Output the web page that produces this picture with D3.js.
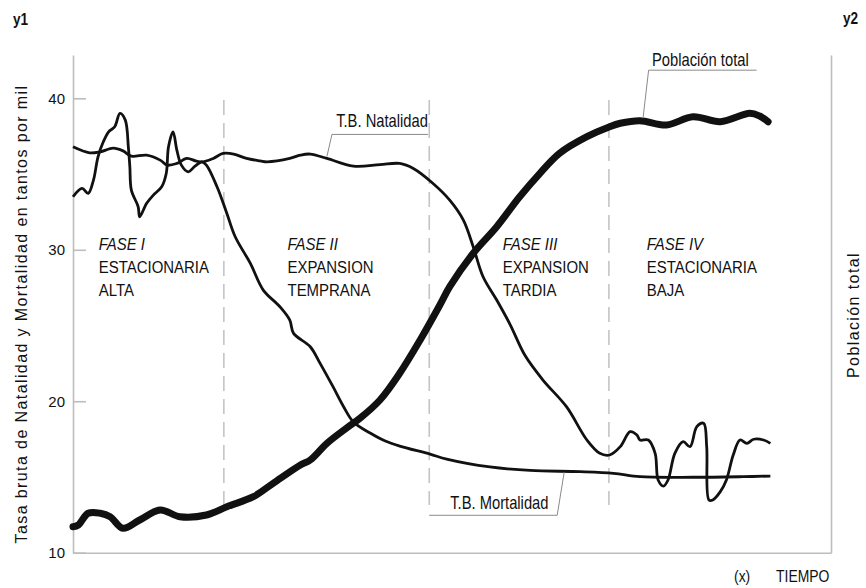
<!DOCTYPE html>
<html>
<head>
<meta charset="utf-8">
<script src="https://cdn.jsdelivr.net/npm/d3@7"></script>
<style>
    body { margin: 0; background: #fff; }
    text { font-family: "Liberation Sans", Arial, sans-serif; fill: #111; }
</style>
</head>
<body>
<div id="chart"></div>
<script>
// [tiempo (0-100), tasa por mil]
var natalidad = [[0, 36.8], [2.2, 36.4], [3.6, 36.47], [5.3, 36.71], [6.6, 36.53], [7.7, 36.18], [9.7, 36.25],
    [11.5, 35.92], [12.4, 35.59], [13.7, 35.7], [15.0, 36.03], [16.3, 35.85], [17.2, 35.81], [18.5, 36.03],
    [19.8, 36.36], [21.2, 36.32], [22.9, 36.03], [24.7, 35.87], [25.6, 35.81], [28.6, 36.03], [30.0, 36.25],
    [31.3, 36.32], [33.5, 36.03], [37.0, 35.52], [40.5, 35.62], [43.1, 35.7], [44.9, 35.37], [47.5, 34.38],
    [49.7, 33.28], [51.5, 31.96], [52.8, 30.2], [54.1, 28.22], [55.9, 26.68], [57.7, 25.03], [59.6, 23.05],
    [62.0, 21.4], [65.1, 19.64], [67.8, 17.44], [69.5, 16.56], [70.8, 16.45], [72.2, 17.0], [73.5, 17.99],
    [74.4, 17.77], [74.8, 17.44], [75.9, 17.44], [76.8, 16.56], [77.2, 14.8], [77.9, 14.4], [78.5, 14.8],
    [79.4, 16.56], [80.5, 17.33], [81.4, 17.0], [82.3, 18.32], [83.2, 18.54], [83.6, 17.0], [83.9, 13.48],
    [84.4, 13.48], [85.4, 14.03], [86.2, 14.8], [87.1, 16.45], [88.0, 17.44], [88.9, 17.22], [89.8, 17.49],
    [91.1, 17.44], [92.0, 17.22]]

var mortalidad = [[0, 33.5], [1.2, 34.05], [2.0, 33.72], [2.7, 34.6], [3.3, 36.14], [4.0, 37.13], [4.7, 37.79],
    [5.5, 38.12], [6.2, 39.0], [6.9, 38.56], [7.3, 36.8], [7.5, 35.48], [7.7, 33.94], [8.6, 32.84], [8.8, 32.18],
    [9.7, 33.06], [10.6, 33.61], [11.7, 34.16], [12.3, 35.04], [12.6, 36.8], [13.2, 37.79], [13.7, 36.58],
    [14.3, 35.59], [15.2, 35.15], [16.1, 35.52], [17.0, 35.81], [17.6, 35.59], [19.0, 34.16], [20.3, 32.4],
    [21.4, 30.86], [23.4, 29.1], [25.1, 27.34], [27.3, 26.24], [28.6, 25.36], [29.1, 24.48], [31.3, 23.6],
    [32.6, 22.5], [34.3, 20.96], [35.7, 19.64], [37.0, 18.63], [39.2, 17.9], [41.2, 17.37], [43.1, 17.04],
    [47.1, 16.51], [49.3, 16.18], [55.0, 15.66], [60.3, 15.43], [66.9, 15.35], [71.3, 15.24], [74.8, 15.02],
    [81.8, 14.98], [88.4, 15.02], [92.0, 15.06]]

// [tiempo, poblacion total] sobre el eje y2 (0-100)
var poblacion = [[0, 5.22], [0.7, 5.57], [2.0, 7.92], [3.6, 7.92], [4.9, 7.23], [6.6, 4.9], [8.8, 6.57],
    [11.5, 8.58], [14.1, 7.23], [17.6, 7.57], [20.3, 9.24], [23.8, 11.25], [26.4, 13.94], [30.0, 17.62],
    [31.3, 18.63], [33.5, 21.98], [36.1, 25.06], [37.9, 27.06], [40.5, 30.68], [43.1, 36.05], [45.8, 42.74],
    [48.4, 49.77], [49.7, 53.45], [52.8, 60.16], [55.9, 65.5], [58.9, 71.47], [61.6, 76.23], [64.2, 80.25],
    [67.8, 83.58], [70.8, 85.59], [72.2, 86.28], [74.8, 86.8], [78.3, 85.94], [81.8, 87.6], [85.4, 86.6],
    [89.3, 88.29], [90.6, 87.74], [91.7, 86.6]]

var ticksY1 = [10, 20, 30, 40]
var limitesFase = [19.9, 47.0, 70.7]
var faseX = [3.4, 28.3, 56.7, 75.7]
var faseNombre = ["FASE I", "FASE II", "FASE III", "FASE IV"]
var faseTexto = [["ESTACIONARIA", "ALTA"], ["EXPANSION", "TEMPRANA"], ["EXPANSION", "TARDIA"], ["ESTACIONARIA", "BAJA"]]
var etiquetas = ["T.B. Natalidad", "T.B. Mortalidad", "Población total"]
var etiquetaT = [33.5, 64.8, 75.2]

var width = 866,
    height = 588;

var svg = d3.select("#chart")
    .append("svg")
    .attr("width", width)
    .attr("height", height)

var x = d3.scaleLinear().domain([0, 100]).range([73, 831])
var y = d3.scaleLinear().domain([10, 42.86]).range([552.7, 55])
var y2 = d3.scaleLinear().domain([0, 100]).range([552.7, 55])

// no hay fuente estrecha instalada: se comprime en horizontal
function textoEstrecho(px, py, size, sx) {
    return svg.append("g")
        .attr("transform", "translate(" + px + "," + py + ") scale(" + sx + ",1)")
        .append("text")
        .style("font-size", size + "px")
}

// ejes
var axisColor = "#bdbdbd"

var gLeft = svg.append("g")
    .attr("transform", "translate(" + x(0) + ",0)")
    .call(d3.axisLeft(y).tickValues(ticksY1).tickSize(-13).tickSizeOuter(0).tickPadding(8).tickFormat(d3.format("d")))
gLeft.select(".domain").attr("stroke", axisColor).attr("stroke-width", 1.6)
gLeft.selectAll(".tick line").attr("stroke", axisColor).attr("stroke-width", 1.6)
gLeft.selectAll(".tick text")
    .attr("fill", "#111")
    .style("font-size", "15px")
    .style("font-family", "'Liberation Sans', Arial, sans-serif")

var gBottom = svg.append("g")
    .attr("transform", "translate(0," + y(10) + ")")
    .call(d3.axisBottom(x).tickValues([]).tickSizeOuter(0))
gBottom.select(".domain").attr("stroke", axisColor).attr("stroke-width", 1.6)

var gRight = svg.append("g")
    .attr("transform", "translate(" + x(100) + ",0)")
    .call(d3.axisRight(y2).tickValues([]).tickSizeOuter(0))
gRight.select(".domain").attr("stroke", axisColor).attr("stroke-width", 1.6)

// lineas de fase
svg.selectAll(".limite")
    .data(limitesFase)
    .enter().append("line")
    .attr("class", "limite")
    .attr("x1", function (d) { return x(d) })
    .attr("x2", function (d) { return x(d) })
    .attr("y1", 100)
    .attr("y2", 505)
    .attr("stroke", "#c4c4c4")
    .attr("stroke-width", 1.6)
    .attr("stroke-dasharray", "15,8")

// textos de fase
faseNombre.forEach(function (nombre, i) {
    var t = textoEstrecho(x(faseX[i]), y(30), 17, 0.88)
    t.append("tspan")
        .style("font-style", "italic")
        .text(nombre)
    faseTexto[i].forEach(function (linea) {
        t.append("tspan")
            .attr("x", 0)
            .attr("dy", 23)
            .text(linea)
    })
})

// curvas
var line = d3.line()
    .x(function (d) { return x(d[0]) })
    .y(function (d) { return y(d[1]) })
    .curve(d3.curveCatmullRom.alpha(0.5))

var line2 = d3.line()
    .x(function (d) { return x(d[0]) })
    .y(function (d) { return y2(d[1]) })
    .curve(d3.curveCatmullRom.alpha(0.5))

svg.append("path")
    .datum(natalidad)
    .attr("d", line)
    .attr("fill", "none")
    .attr("stroke", "#111")
    .attr("stroke-width", 2.8)
    .attr("stroke-linejoin", "round")

svg.append("path")
    .datum(mortalidad)
    .attr("d", line)
    .attr("fill", "none")
    .attr("stroke", "#111")
    .attr("stroke-width", 2.8)
    .attr("stroke-linejoin", "round")

svg.append("path")
    .datum(poblacion)
    .attr("d", line2)
    .attr("fill", "none")
    .attr("stroke", "#111")
    .attr("stroke-width", 7)
    .attr("stroke-linejoin", "round")
    .attr("stroke-linecap", "round")

// etiquetas con linea guia
function valorEn(serie, t) {
    for (var i = 1; i < serie.length; i++) {
        if (serie[i][0] >= t) {
            var a = serie[i - 1], b = serie[i]
            return a[1] + (b[1] - a[1]) * (t - a[0]) / (b[0] - a[0])
        }
    }
    return serie[serie.length - 1][1]
}

// dx, dy: codo respecto al punto; largo: repisa (negativa = hacia la izquierda)
var guias = [
    { px: x(etiquetaT[0]), py: y(valorEn(natalidad, etiquetaT[0])) - 2, dx: 5, dy: -22, largo: 96, tx: 96, anchor: "end", ty: -7 },
    { px: x(etiquetaT[1]), py: y(valorEn(mortalidad, etiquetaT[1])) + 1, dx: -7, dy: 43, largo: -128, tx: -107, anchor: "start", ty: -6 },
    { px: x(etiquetaT[2]), py: y2(valorEn(poblacion, etiquetaT[2])) - 3, dx: 5.6, dy: -48, largo: 108, tx: 3.4, anchor: "start", ty: -4 }
]

guias.forEach(function (g, i) {
    var cx = g.px + g.dx, cy = g.py + g.dy
    svg.append("polyline")
        .attr("points", [[g.px, g.py], [cx, cy], [cx + g.largo, cy]].map(function (p) { return p.join(",") }).join(" "))
        .attr("fill", "none")
        .attr("stroke", "#8a8a8a")
        .attr("stroke-width", 1)
    textoEstrecho(cx + g.tx, cy + g.ty, 18, 0.82)
        .attr("text-anchor", g.anchor)
        .text(etiquetas[i])
})

// titulos
textoEstrecho(13, 25, 16, 0.85)
    .style("font-weight", "bold")
    .text("y1")

textoEstrecho(843, 24, 16, 0.85)
    .style("font-weight", "bold")
    .text("y2")

svg.append("text")
    .attr("transform", "translate(27,314) rotate(-90)")
    .attr("text-anchor", "middle")
    .style("font-size", "16px")
    .style("letter-spacing", "1.4px")
    .text("Tasa bruta de Natalidad y Mortalidad en tantos por mil")

svg.append("text")
    .attr("transform", "translate(859,315) rotate(-90)")
    .attr("text-anchor", "middle")
    .style("font-size", "16px")
    .style("letter-spacing", "1.4px")
    .text("Población total")

textoEstrecho(734, 582, 17, 0.82).text("(x)")
textoEstrecho(776, 582, 17, 0.82).text("TIEMPO")
</script>
</body>
</html>
